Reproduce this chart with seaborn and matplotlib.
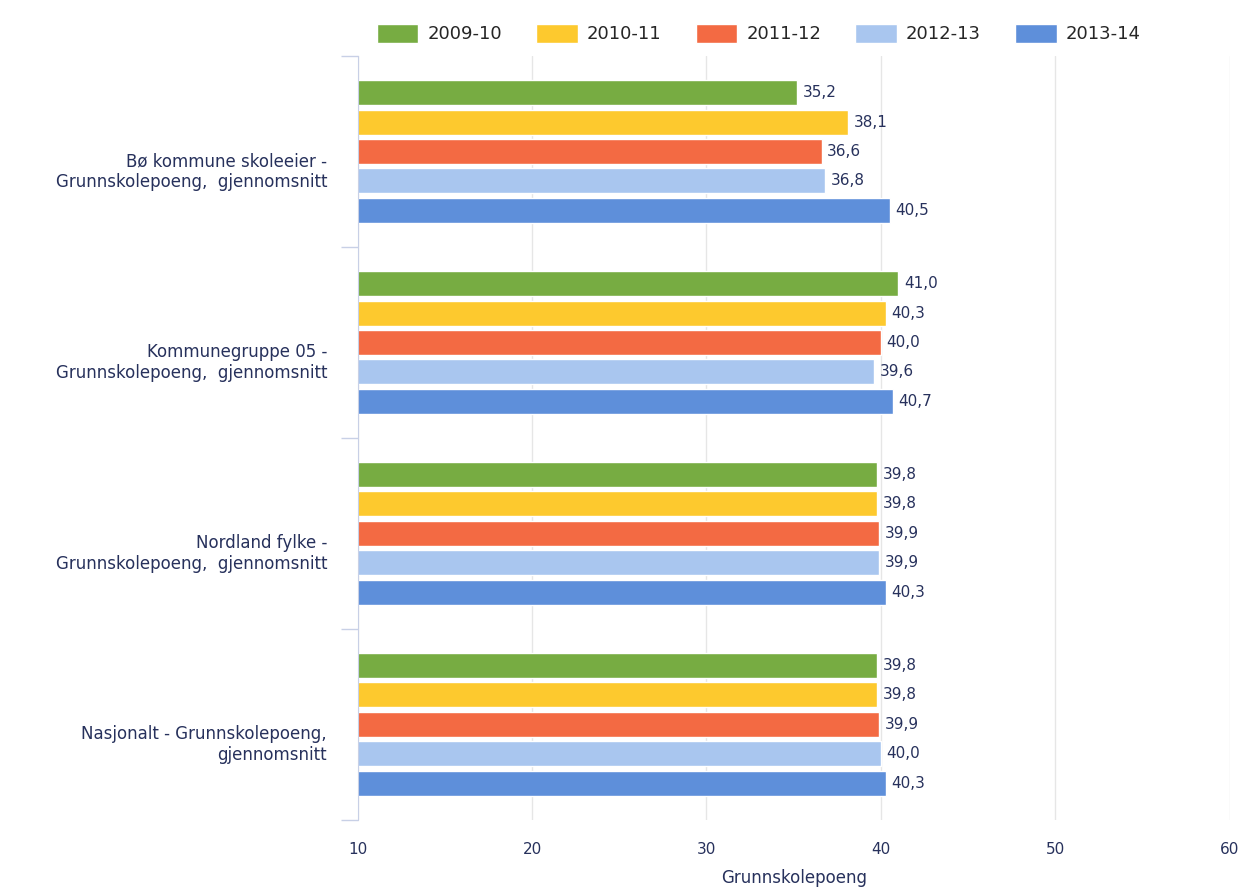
import numpy as np
import pandas as pd
import matplotlib
matplotlib.use("Agg")
import matplotlib.pyplot as plt
import matplotlib.transforms as mtrans
import seaborn as sns

# data
categories = [
    "Bø kommune skoleeier -\nGrunnskolepoeng,  gjennomsnitt",
    "Kommunegruppe 05 -\nGrunnskolepoeng,  gjennomsnitt",
    "Nordland fylke -\nGrunnskolepoeng,  gjennomsnitt",
    "Nasjonalt - Grunnskolepoeng,\ngjennomsnitt",
]
years = ["2009-10", "2010-11", "2011-12", "2012-13", "2013-14"]
v_2009_10 = [35.2, 41.0, 39.8, 39.8]
v_2010_11 = [38.1, 40.3, 39.8, 39.8]
v_2011_12 = [36.6, 40.0, 39.9, 39.9]
v_2012_13 = [36.8, 39.6, 39.9, 40.0]
v_2013_14 = [40.5, 40.7, 40.3, 40.3]
x_ticks = [10, 20, 30, 40, 50, 60]

colors = ["#77AC42", "#FDC92E", "#F36A43", "#A9C6EF", "#5E8FDA"]
text_col = "#27315C"

series = [v_2009_10, v_2010_11, v_2011_12, v_2012_13, v_2013_14]
rows = []
for year, vals in zip(years, series):
    for cat, v in zip(categories, vals):
        rows.append({"kategori": cat, "år": year, "poeng": v})
df = pd.DataFrame(rows)

sns.set_style("white")
plt.rcParams["font.family"] = ["DejaVu Sans"]

fig = plt.figure(figsize=(12.46, 8.91), dpi=100)
ax = fig.add_axes([0.287, 0.080, 0.700, 0.857])

sns.barplot(data=df, x="poeng", y="kategori", hue="år", order=categories,
            hue_order=years, palette=colors, orient="h", width=0.77, gap=0.15,
            saturation=1, ax=ax, legend=True)

for cont in ax.containers:
    labels = [f"{b.get_width():.1f}".replace(".", ",") for b in cont]
    ax.bar_label(cont, labels=labels, padding=4, fontsize=11, color=text_col)

ax.set_xlim(10, 60)
ax.set_xticks(x_ticks)
ax.set_xticklabels([str(t) for t in x_ticks], fontsize=11, color=text_col)
ax.grid(axis="x", color="#E6E6E6", linewidth=1)
ax.set_axisbelow(True)
ax.set_ylim(3.5, -0.5)

for s in ["top", "right", "bottom"]:
    ax.spines[s].set_visible(False)
ax.spines["left"].set_color("#C8D0E6")

ax.tick_params(axis="x", length=0, pad=16)
ax.tick_params(axis="y", which="major", length=0, pad=22)
ax.set_yticks([-0.5, 0.5, 1.5, 2.5, 3.5], minor=True)
ax.tick_params(axis="y", which="minor", left=True, length=12, width=1,
               color="#C8D0E6")

# category labels sit a bit below the group centre in the original
offset = mtrans.ScaledTranslation(0, -0.17, fig.dpi_scale_trans)
for lbl in ax.get_yticklabels():
    lbl.set_fontsize(12)
    lbl.set_color(text_col)
    lbl.set_transform(lbl.get_transform() + offset)

ax.set_xlabel("Grunnskolepoeng", fontsize=12, color=text_col, labelpad=9)
ax.set_ylabel("")

handles, labs = ax.get_legend_handles_labels()
ax.legend(handles, labs, loc="lower center", bbox_to_anchor=(0.46, 1.0), ncol=5,
          frameon=False, fontsize=13, handlelength=2.3, handleheight=1.3,
          columnspacing=1.9, handletextpad=0.5, borderaxespad=0.3)

fig.savefig("out.png", dpi=100)
